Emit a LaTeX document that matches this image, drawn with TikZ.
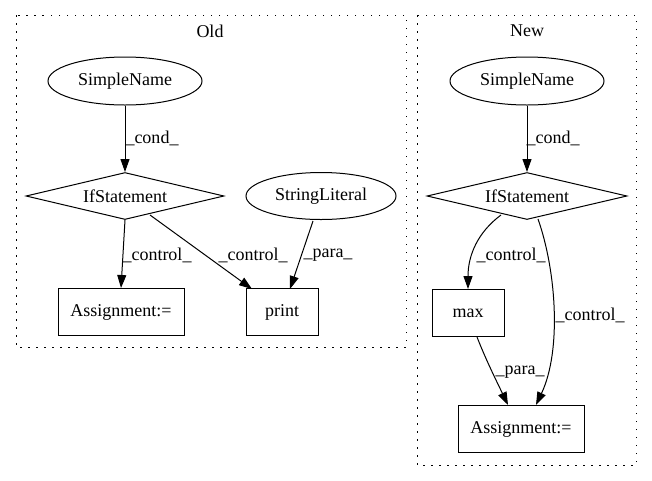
\documentclass[tikz,border=0pt]{standalone}
\usepackage{fontspec}
\setmainfont{Liberation Serif}
\usetikzlibrary{shapes.geometric,arrows.meta}
\begin{document}
\begin{tikzpicture}[x=1pt,y=-1pt,
  every node/.style={font=\fontsize{18}{21}\selectfont, inner sep=0pt},
  ell/.style={draw, ellipse, line width=1pt, minimum width=154pt, minimum height=48pt},
  ell2/.style={draw, ellipse, line width=1pt, minimum width=150pt, minimum height=47pt},
  dia/.style={draw, diamond, line width=1pt, minimum width=198pt, minimum height=47pt, aspect=4.2},
  box/.style={draw, rectangle, line width=1pt, minimum height=47pt},
  edge/.style={line width=1pt, -{Triangle[length=13pt,width=9pt]}},
  lbl/.style={font=\fontsize{18}{21}\selectfont},
  cluster/.style={line width=1pt, dash pattern=on 1.5pt off 6.5pt}
]
\useasboundingbox (0,0) rectangle (652,480);
% clusters
\draw[cluster] (16,15) rectangle (406,347);
\draw[cluster] (417,15) rectangle (636,465);
\node (toldtitle) at (210,31) {Old};
\node (tnewtitle) at (527,31) {New};

% Old
\node[ell] (osn) at (125,81) {SimpleName};
\node[dia] (oif) at (125,196) {IfStatement};
\node[ell2] (osl) at (321,196) {StringLiteral};
\node[box, minimum width=126pt] (oas) at (121,312) {Assignment:=};
\node[box, minimum width=72pt] (opr) at (282,312) {print};

\draw[edge] (osn) -- (oif);
\draw[edge] (oif.south) -- (oas.north -| 121,0);
\draw[edge] (150,215) -- (252,289);
\draw[edge] (313,221) -- (290,289);
\node[lbl] (lc1) at (152,138) {\_cond\_};
\node[lbl] (lc2) at (157,255) {\_control\_};
\node[lbl] (lc3) at (253,255) {\_control\_};
\node[lbl] (lc4) at (328,255) {\_para\_};

% New
\node[ell] (nsn) at (527,81) {SimpleName};
\node[dia, minimum width=200pt] (nif) at (527,196) {IfStatement};
\node[box, minimum width=72pt] (nmx) at (468,313) {max};
\node[box, minimum width=126pt] (nas) at (521,429) {Assignment:=};

\draw[edge] (nsn) -- (nif);
\draw[edge] (501,215) .. controls (478,232) and (468,255) .. (468,289);
\draw[edge] (538,219) .. controls (556,270) and (562,350) .. (536,405);
\draw[edge] (477,337) .. controls (486,360) and (496,380) .. (508,405);
\node[lbl] (lc5) at (553,138) {\_cond\_};
\node[lbl] (lc6) at (511,255) {\_control\_};
\node[lbl] (lc7) at (590,315) {\_control\_};
\node[lbl] (lc8) at (520,372) {\_para\_};
\end{tikzpicture}
\end{document}
